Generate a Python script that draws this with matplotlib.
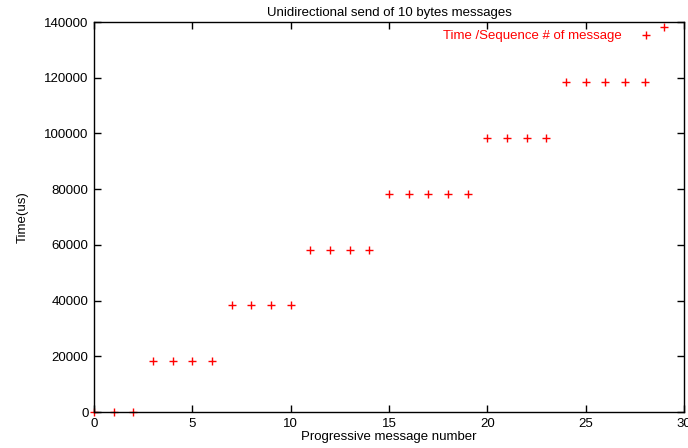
import matplotlib
matplotlib.use("Agg")
import matplotlib.pyplot as plt

plt.rcParams['font.family'] = ['Liberation Sans', 'DejaVu Sans']

# message number vs time (us)
msg_num = list(range(30))
time_us = [0, 0, 0,
           18300, 18300, 18300, 18300,
           38300, 38300, 38300, 38300,
           58300, 58300, 58300, 58300,
           78300, 78300, 78300, 78300, 78300,
           98300, 98300, 98300, 98300,
           118300, 118300, 118300, 118300, 118300,
           138300]

xticks = [0, 5, 10, 15, 20, 25, 30]
yticks = [0, 20000, 40000, 60000, 80000, 100000, 120000, 140000]

fs = 9.5

fig = plt.figure(figsize=(6.88, 4.48), dpi=100)
ax = fig.add_axes([94 / 688, 36 / 448, 590 / 688, 390 / 448])

ax.plot(msg_num, time_us, linestyle='none', marker='+', color='red',
        markersize=5.5, markeredgewidth=1, label='Time /Sequence # of message',
        clip_on=False)

ax.set_xlim(0, 30)
ax.set_ylim(0, 140000)
ax.set_xticks(xticks)
ax.set_yticks(yticks)
ax.tick_params(direction='in', top=True, right=True, length=5, width=1,
               labelsize=fs, pad=4)
for s in ax.spines.values():
    s.set_linewidth(1)

ax.set_title('Unidirectional send of 10 bytes messages', fontsize=fs, pad=4)
ax.set_xlabel('Progressive message number', fontsize=fs, labelpad=1)
ax.set_ylabel('Time(us)', fontsize=fs, labelpad=11)

leg = ax.legend(loc='upper right', frameon=False, markerfirst=False,
                fontsize=fs, handlelength=1, handletextpad=1.3,
                borderaxespad=0.2, bbox_to_anchor=(0.96, 1.0))
for t in leg.get_texts():
    t.set_color('red')

fig.savefig('out.png', dpi=100)
